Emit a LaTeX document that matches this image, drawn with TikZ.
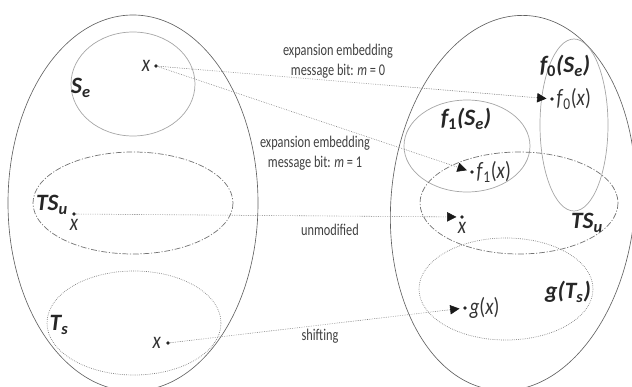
\documentclass[tikz,border=0pt]{standalone}
\usepackage{fontspec}
\setmainfont{Carlito}
\newfontfamily\narrowfont{Carlito}[FakeStretch=0.75]
\newfontfamily\pointfont{Carlito}[FakeStretch=0.82]
\usepackage{tikz}
\usetikzlibrary{arrows.meta,positioning}

\tikzset{
	egg/.style={draw=black!62, line width=0.55pt},
	subset/.style={draw=black!35, line width=0.6pt},
	dashdot/.style={draw=black!55, line width=0.6pt, dash pattern=on 5pt off 1.5pt on 1pt off 1.5pt},
	dotset/.style={draw=black!50, line width=0.6pt, densely dotted},
	pt/.style={circle, fill=black!85, inner sep=0pt, minimum size=3pt},
	setname/.style={font=\fontsize{20}{21}\selectfont\bfseries\itshape, text=black!85, inner sep=0pt},
	ptname/.style={font=\pointfont\fontsize{20}{21}\selectfont, text=black!80, inner sep=0pt},
	maplabel/.style={font=\narrowfont\fontsize{14}{17}\selectfont, text=black!75, align=center},
	map/.style={draw=black!55, line width=0.5pt, densely dotted, -{Triangle[length=8pt,width=8pt,black!90]}, shorten >=3pt}
}

\begin{document}
\begin{tikzpicture}[x=0.3mm, y=-0.3mm]
				\useasboundingbox (0,0) rectangle (632,387);
				\clip (0,0) rectangle (632,387);
				
				% left side
				\draw[egg] (133,203) ellipse [x radius=125, y radius=188];
				\draw[subset] (133,84) ellipse [x radius=62, y radius=52];
				\draw[dashdot] (133,203) ellipse [x radius=100, y radius=51];
				\draw[dotset] (134,323) ellipse [x radius=87, y radius=52];
				
				% right side
				\draw[egg, rotate around={-5:(513,203)}] (513,203) ellipse [x radius=122, y radius=188];
				\draw[subset] (467,146) ellipse [x radius=63, y radius=46];
				\draw[subset] (574,125) ellipse [x radius=34, y radius=86];
				\draw[dashdot] (519,203) ellipse [x radius=99, y radius=51];
				\draw[dotset] (506,289) ellipse [x radius=87, y radius=51];
				
				% set names
				\node[setname] (se) at (81,88) {S\textsubscript{e}};
				\node[setname] (tsu) at (52,205) {TS\textsubscript{u}};
				\node[setname] (ts) at (59,325) {T\textsubscript{s}};
				\node[setname] (fse1) at (466,119) {f\textsubscript{\upshape 1}(S\textsubscript{e})};
				\node[setname] (fse0) at (565,66) {f\textsubscript{\upshape 0}(S\textsubscript{e})};
				\node[setname] (tsu2) at (587,223) {TS\textsubscript{u}};
				\node[setname] (gts) at (568,292) {g(T\textsubscript{s})};
				
				% points
				\foreach \p/\a/\b in
				{p1/156/66, p2/74/214, p3/168/343, q0/552/99, q1/472/172, q2/462/217, q3/465/308}{
					\node[pt] (\p) at (\a,\b) {};
				}
				
				\node[ptname, left=3pt of p1] (p1x) {\textit{x}};
				\node[ptname, below=3pt of p2] (p2x) {\textit{x}};
				\node[ptname, left=4pt of p3] (p3x) {\textit{x}};
				\node[ptname, right=2pt of q0] (q0x) {\textit{f}\textsubscript{\upshape 0}(\textit{x})};
				\node[ptname, right=2pt of q1] (q1x) {\textit{f}\textsubscript{\upshape 1}(\textit{x})};
				\node[ptname, below=3pt of q2] (q2x) {\textit{x}};
				\node[ptname, right=2pt of q3] (q3x) {\textit{g}(\textit{x})};
				
				% maps
				\node[maplabel] (m0) at (338,61) {expansion embedding\\message bit: \textit{m} = 0};
				\node[maplabel] (m1) at (315,153) {expansion embedding\\message bit: \textit{m} = 1};
				\node[maplabel] (um) at (330,230) {unmodified};
				\node[maplabel] (sh) at (320,336) {shifting};
				
				\foreach \p/\q in
				{p1/q0, p1/q1, p2/q2, p3/q3}{
					\draw[map] (\p)--(\q);
				}
			\end{tikzpicture}
\end{document}
